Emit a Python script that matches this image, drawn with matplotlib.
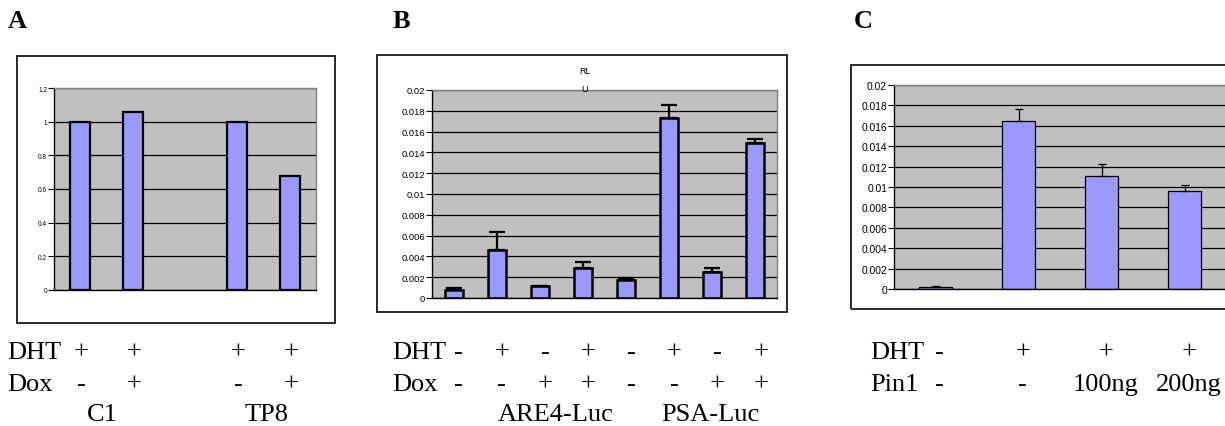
import matplotlib.pyplot as plt
import matplotlib.transforms as mtransforms
from matplotlib.patches import Rectangle

# panel A
a_x = [0, 1, 3, 4]
a_vals = [1.0, 1.06, 1.0, 0.68]
a_dht = ['+', '+', '+', '+']
a_dox = ['-', '+', '-', '+']
a_groups = ['C1', 'TP8']
a_ticks = [0, 0.2, 0.4, 0.6, 0.8, 1, 1.2]

# panel B
b_vals = [0.0008, 0.0046, 0.00115, 0.00285, 0.00176, 0.01735, 0.00246, 0.01488]
b_err = [0.0002, 0.0017, 0.00005, 0.0006, 0.0002, 0.0012, 0.0004, 0.0004]
b_dht = ['-', '+', '-', '+', '-', '+', '-', '+']
b_dox = ['-', '-', '+', '+', '-', '-', '+', '+']
b_groups = ['ARE4-Luc', 'PSA-Luc']
b_ticks = [0, 0.002, 0.004, 0.006, 0.008, 0.01, 0.012, 0.014, 0.016, 0.018, 0.02]

# panel C
c_vals = [0.0002, 0.01648, 0.01103, 0.00962]
c_err = [0.0001, 0.0012, 0.0012, 0.0006]
c_dht = ['-', '+', '+', '+']
c_pin = ['-', '-', '100ng', '200ng']
c_ticks = b_ticks

W, H = 1225, 427
fig = plt.figure(figsize=(W / 100, H / 100), dpi=100)
SERIF = 'Liberation Serif'
SANS = 'Liberation Sans'
BAR = '#9999FF'
BG = '#C0C0C0'


def box(x0, y0, x1, y1):
	# pixel box -> figure fraction
	return [x0 / W, 1 - y1 / H, (x1 - x0) / W, (y1 - y0) / H]


def frame(x0, y0, x1, y1):
	r = Rectangle((x0 / W, 1 - y1 / H), (x1 - x0) / W, (y1 - y0) / H,
				  transform=fig.transFigure, fill=False, ec='#1a1a1a', lw=1.3)
	fig.add_artist(r)


def style(ax, ticks, fs, labels):
	ax.set_facecolor(BG)
	ax.set_ylim(ticks[0], ticks[-1])
	ax.set_yticks(ticks)
	ax.set_yticklabels(labels, fontsize=fs, family=SANS)
	ax.set_xticks([])
	ax.tick_params(axis='y', length=4, width=0.8, pad=1)
	ax.grid(axis='y', color='black', lw=0.9)
	ax.set_axisbelow(True)
	ax.spines['top'].set_color('#808080')
	ax.spines['right'].set_color('#808080')
	ax.spines['left'].set_color('black')
	ax.spines['bottom'].set_color('black')
	for s in ax.spines.values():
		s.set_linewidth(1.0)


def ptext(x, y, s, **kw):
	fig.text(x / W, 1 - y / H, s, family=SERIF, fontsize=19, va='baseline', **kw)


# ---- A ----
frame(17, 57, 335, 324)
ax = fig.add_axes(box(54, 89, 316, 291))
ax.bar(a_x, a_vals, width=0.38, color=BAR, edgecolor='black', lw=1.6)
ax.set_xlim(-0.5, 4.5)
style(ax, a_ticks, 4.7, ['0', '0.2', '0.4', '0.6', '0.8', '1', '1.2'])
tr = mtransforms.blended_transform_factory(ax.transData, fig.transFigure)
for x, d, o in zip(a_x, a_dht, a_dox):
	fig.text(x + 0.02, 1 - 359 / H, d, transform=tr, family=SERIF, fontsize=19, ha='center', va='baseline')
	fig.text(x + 0.02, 1 - 391 / H, o, transform=tr, family=SERIF, fontsize=19, ha='center', va='baseline')
for gx, g in zip([0.42, 3.55], a_groups):
	fig.text(gx, 1 - 421 / H, g, transform=tr, family=SERIF, fontsize=19, ha='center', va='baseline')
ptext(7, 359, 'DHT')
ptext(7, 391, 'Dox')
ptext(8, 28, 'A', weight='bold')

# ---- B ----
frame(377, 56, 787, 313)
ax = fig.add_axes(box(432, 91, 777, 299))
bx = list(range(len(b_vals)))
ax.bar(bx, b_vals, width=0.42, color=BAR, edgecolor='black', lw=1.8)
ax.errorbar(bx, b_vals, yerr=[[0] * len(b_err), b_err], fmt='none', ecolor='black',
			elinewidth=1.6, capsize=5.5, capthick=1.6)
ax.set_xlim(-0.5, 7.5)
style(ax, b_ticks, 6.8, ['0', '0.002', '0.004', '0.006', '0.008', '0.01', '0.012',
						 '0.014', '0.016', '0.018', '0.02'])
tr = mtransforms.blended_transform_factory(ax.transData, fig.transFigure)
for x, d, o in zip(bx, b_dht, b_dox):
	fig.text(x + 0.12, 1 - 359 / H, d, transform=tr, family=SERIF, fontsize=19, ha='center', va='baseline')
	fig.text(x + 0.12, 1 - 391 / H, o, transform=tr, family=SERIF, fontsize=19, ha='center', va='baseline')
for gx, g in zip([2.37, 5.95], b_groups):
	fig.text(gx, 1 - 421 / H, g, transform=tr, family=SERIF, fontsize=19, ha='center', va='baseline')
ptext(392, 359, 'DHT')
ptext(392, 391, 'Dox')
ptext(393, 28, 'B', weight='bold')
fig.text(585 / W, 1 - 71 / H, 'RL', family=SANS, fontsize=6.5, ha='center', va='center')
fig.text(585 / W, 1 - 89 / H, 'U', family=SANS, fontsize=6.5, ha='center', va='center')

# ---- C ----
frame(851, 66, 1240, 310)
ax = fig.add_axes(box(894, 86, 1226, 290))
cx = list(range(len(c_vals)))
ax.bar(cx, c_vals, width=0.4, color=BAR, edgecolor='black', lw=0.9)
ax.errorbar(cx, c_vals, yerr=[[0] * len(c_err), c_err], fmt='none', ecolor='black',
			elinewidth=0.9, capsize=3, capthick=0.9)
ax.set_xlim(-0.5, 3.5)
style(ax, c_ticks, 7.4, ['0', '0.002', '0.004', '0.006', '0.008', '0.01', '0.012',
						 '0.014', '0.016', '0.018', '0.02'])
tr = mtransforms.blended_transform_factory(ax.transData, fig.transFigure)
for x, d, p in zip(cx, c_dht, c_pin):
	fig.text(x + 0.05, 1 - 359 / H, d, transform=tr, family=SERIF, fontsize=19, ha='center', va='baseline')
	fig.text(x + 0.05, 1 - 391 / H, p, transform=tr, family=SERIF, fontsize=19, ha='center', va='baseline')
ptext(870, 359, 'DHT')
ptext(870, 391, 'Pin1')
ptext(854, 28, 'C', weight='bold')

fig.savefig('out.png', dpi=100)
